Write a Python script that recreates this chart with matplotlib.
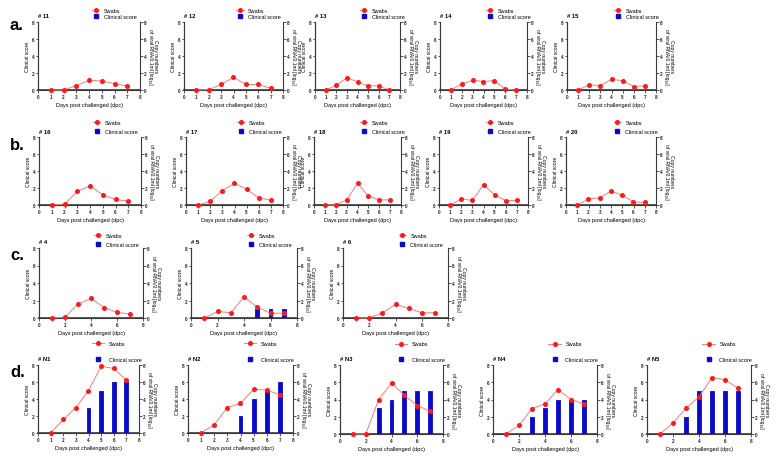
import matplotlib.pyplot as plt
from matplotlib.lines import Line2D

plt.rcParams['font.family'] = ['Liberation Sans', 'DejaVu Sans']
plt.rcParams['font.weight'] = 'bold'

# ------------------------------------
# Data (days 1-7 post challenge)
# ------------------------------------
days = [1, 2, 3, 4, 5, 6, 7]
no_score = [0, 0, 0, 0, 0, 0, 0]

swabs_11 = [0, 0, 0.5, 1.15, 1.05, 0.75, 0.45]
swabs_12 = [0, 0.05, 0.65, 1.5, 0.65, 0.65, 0.2]
swabs_13 = [0, 0.55, 1.45, 0.95, 0.5, 0.5, 0]
swabs_14 = [0, 0.7, 1.15, 1.0, 1.1, 0.1, 0]
swabs_15 = [0, 0.6, 0.5, 1.25, 1.1, 0.4, 0.5]

swabs_16 = [0, 0.1, 1.6, 2.25, 1.2, 0.65, 0.45]
swabs_17 = [0, 0.45, 1.7, 2.55, 1.85, 0.85, 0.55]
swabs_18 = [0, 0, 0.6, 2.55, 1.05, 0.6, 0.6]
swabs_19 = [0, 0.7, 0.55, 2.4, 1.2, 0.5, 0.55]
swabs_20 = [0, 0.7, 0.85, 1.65, 1.15, 0.35, 0.3]

swabs_4 = [0, 0.1, 1.6, 2.25, 1.2, 0.65, 0.45]
swabs_5 = [0, 0.75, 0.6, 2.4, 1.25, 0.55, 0.55]
swabs_6 = [0, 0, 0.6, 1.55, 1.1, 0.6, 0.6]
score_5 = [0, 0, 0, 0, 1, 1, 1]

swabs_N1 = [0, 1.6, 3.0, 5.0, 7.85, 7.6, 6.2]
swabs_N2 = [0, 1.0, 3.0, 3.5, 5.15, 5.05, 4.5]
swabs_N3 = [0, 0, 4.0, 5.9, 4.5, 3.3, 2.65]
swabs_N4 = [0, 1.0, 2.95, 3.5, 5.15, 4.0, 3.5]
swabs_N5 = [0, 1.3, 3.0, 4.3, 6.55, 6.3, 5.3]
score_N1 = [0, 0, 0, 3, 5, 6, 6]
score_N2 = [0, 0, 0, 2, 4, 5, 6]
score_N3 = [0, 0, 3, 4, 5, 5, 5]
score_N4 = [0, 0, 2, 3, 4, 4, 4]
score_N5 = [0, 0, 2, 5, 5, 5, 5]

# ------------------------------------
# Layout (pixel boxes: left, right, top, bottom)
# ------------------------------------
W, H = 779, 460
RED = "#ff1a1a"
PINK = "#ff7a7a"
BLUE = "#0a0ac8"
AXIS = "#3a3a3a"

fig = plt.figure(figsize=(W / 100, H / 100), dpi=100)

panels = [
    # row a
    ("# 11", swabs_11, no_score, (38, 140, 23, 91), 1, "a"),
    ("# 12", swabs_12, no_score, (184, 283, 23, 91), 1, "a"),
    ("# 13", swabs_13, no_score, (315, 400, 23, 91), 1, "a"),
    ("# 14", swabs_14, no_score, (440, 527, 23, 91), 1, "a"),
    ("# 15", swabs_15, no_score, (567, 656, 23, 91), 1, "a"),
    # row b
    ("# 16", swabs_16, no_score, (39, 141, 138, 206), 1, "b"),
    ("# 17", swabs_17, no_score, (186, 283, 138, 206), 1, "b"),
    ("# 18", swabs_18, no_score, (314, 401, 138, 206), 1, "b"),
    ("# 19", swabs_19, no_score, (439, 528, 138, 206), 1, "b"),
    ("# 20", swabs_20, no_score, (566, 656, 138, 206), 1, "b"),
    # row c
    ("# 4", swabs_4, no_score, (39, 143, 249, 319), 2, "c"),
    ("# 5", swabs_5, score_5, (191, 297, 249, 319), 2, "c"),
    ("# 6", swabs_6, no_score, (343, 448, 249, 319), 2, "c"),
    # row d
    ("# N1", swabs_N1, score_N1, (38, 139, 366, 434), 1, "d"),
    ("# N2", swabs_N2, score_N2, (188, 293, 366, 434), 1, "d"),
    ("# N3", swabs_N3, score_N3, (340, 443, 366, 435), 2, "d"),
    ("# N4", swabs_N4, score_N4, (493, 597, 366, 435), 2, "d"),
    ("# N5", swabs_N5, score_N5, (647, 751, 366, 435), 2, "d"),
]

# legend spacing per row: (gap above axes in px, labelspacing, handlelength)
legend_style = {
    "a": (3, 0.25, 1.3),
    "b": (3, 0.8, 1.3),
    "c": (1, 0.8, 1.3),
    "d": (3, 1.9, 2.3),
}

for name, swabs, score, box, xstep, row in panels:
    l, r, t, b = box
    ax = fig.add_axes([l / W, 1 - b / H, (r - l) / W, (b - t) / H])
    ax.bar(days, score, width=0.3, color=BLUE, edgecolor=BLUE,
           linewidth=0.6, zorder=3, clip_on=False)
    ax.set_xlim(0, 8)
    ax.set_ylim(0, 8)
    ax.set_xticks(range(0, 9, xstep))
    ax.set_yticks([0, 2, 4, 6, 8])
    ax.set_xlabel("Days post challenged (dpc)", fontsize=4, labelpad=2)
    ax.set_ylabel("Clinical score", fontsize=3.6, labelpad=1)

    ax2 = ax.twinx()
    ax2.plot(days, swabs, color=PINK, linewidth=0.7, marker="o",
             markersize=2.6, markerfacecolor=RED, markeredgecolor=RED,
             zorder=4, clip_on=False)
    ax2.set_ylim(0, 8)
    ax2.set_yticks([0, 2, 4, 6, 8])
    ax2.set_ylabel("Copy numbers\nof viral RNA/0.1ml [log₁₀]", rotation=270,
                   va="bottom", fontsize=3.6, linespacing=1.1, labelpad=1)

    for a in (ax, ax2):
        a.spines["top"].set_visible(False)
        for s in ("left", "right", "bottom"):
            a.spines[s].set_color(AXIS)
            a.spines[s].set_linewidth(0.8)
        a.tick_params(labelsize=3.3, length=1.8, width=0.6, pad=1.0,
                      colors=AXIS, labelcolor="#222222")
    ax.spines["right"].set_visible(False)
    ax.spines["bottom"].set_linewidth(1.2)

    hpx = b - t
    gap, lsp, hlen = legend_style[row]
    handles = [
        Line2D([], [], color=PINK, linewidth=0.7, marker="o", markersize=2.6,
               markerfacecolor=RED, markeredgecolor=RED),
        Line2D([], [], linestyle="none", marker="s", markersize=2.4,
               color=BLUE),
    ]
    ax2.legend(handles, ["Swabs", "Clinical score"], loc="lower left",
               bbox_to_anchor=(0.53, 1 + gap / hpx), frameon=False,
               prop={"weight": "normal", "size": 4},
               borderaxespad=0, borderpad=0, labelspacing=lsp,
               handlelength=hlen, handletextpad=0.8)

    ax.text(0.0, 1 + 6 / hpx, name, transform=ax.transAxes, fontsize=4.2,
            ha="left", va="center")

# panel letters
for letter, y in [("a.", 25), ("b.", 145), ("c.", 255), ("d.", 373)]:
    fig.text(10 / W, 1 - y / H, letter, fontsize=12, fontweight="bold",
             ha="left", va="center")

fig.savefig("out.png", dpi=100)
